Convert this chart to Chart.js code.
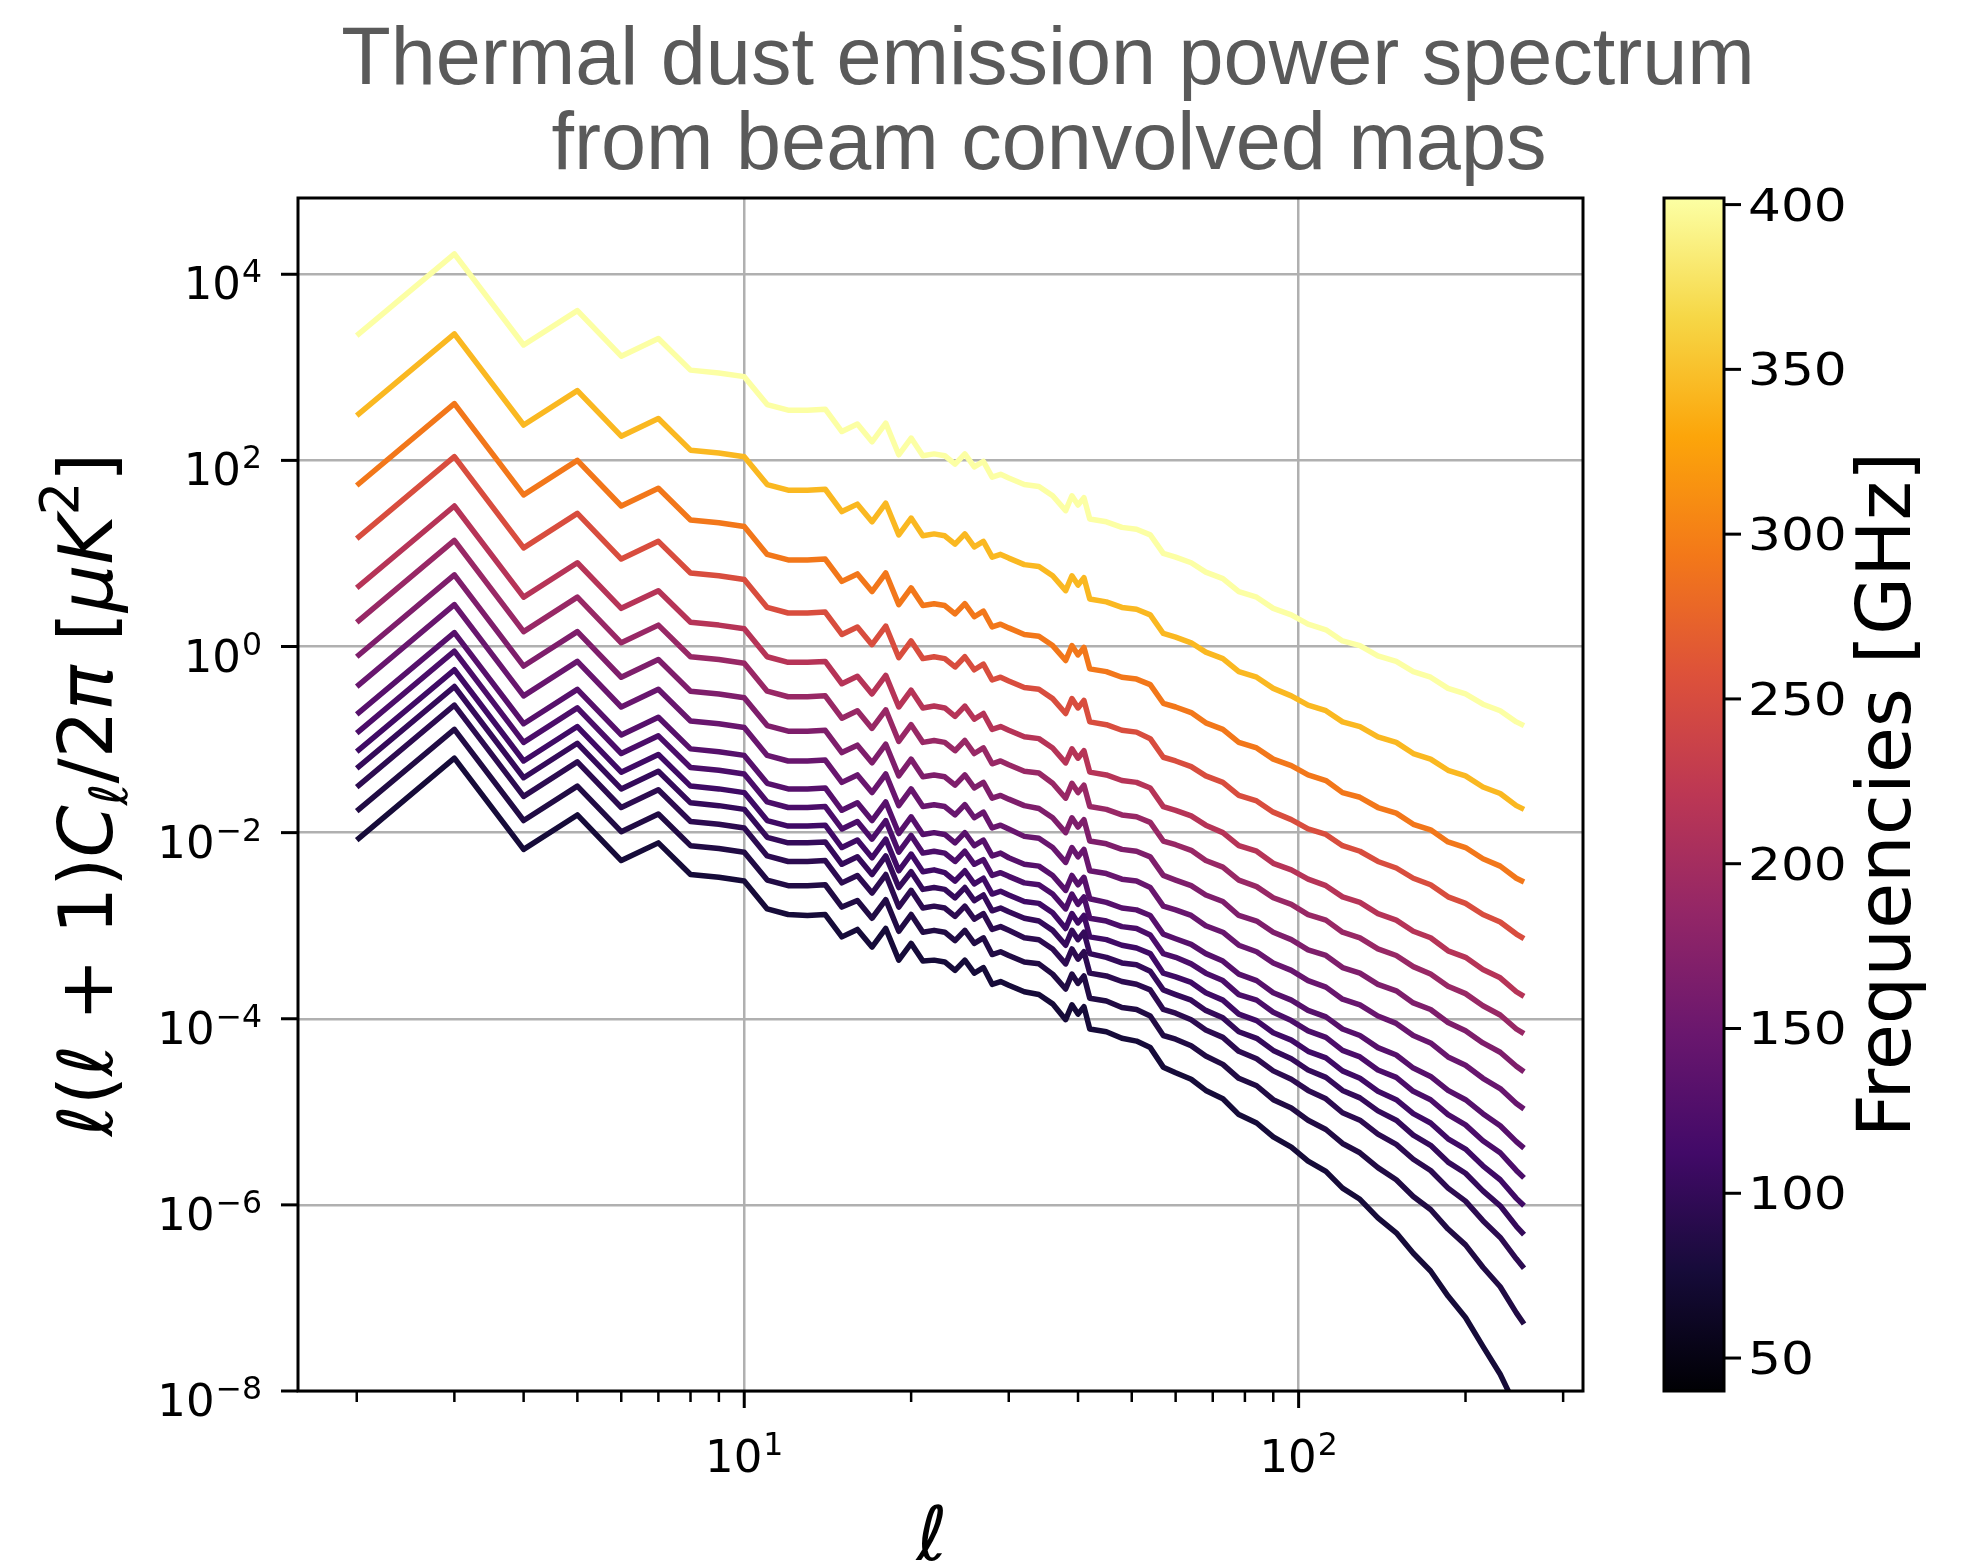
<!DOCTYPE html>
<html>
<head>
<meta charset="utf-8">
<title>Thermal dust emission power spectrum</title>
<script src="https://cdn.jsdelivr.net/npm/chart.js@4.4.1/dist/chart.umd.min.js"></script>
<style>
  html, body { margin: 0; padding: 0; background: #fff; }
  #wrap { width: 1962px; height: 1564px; }
</style>
</head>
<body>
<div id="wrap"><canvas id="spectrum" width="1962" height="1564"></canvas></div>
<script>
// multipoles at which the spectra are sampled
const ells = [2,3,4,5,6,7,8,9,10,11,12,13,14,15,16,17,18,19,20,21,22,23,24,25,26,27,28,29,30,
  32,34,36,38,39,40,41,42,45,48,51,54,57,60,64,68,73,78,84,90,97,104,112,120,129,139,150,161,173,186,200,215,231,247,255];

// band centres in GHz (lowest to highest)
const frequencies = [40, 50, 60, 68, 78, 89, 100, 119, 140, 166, 195, 235, 280, 337, 402];

// log10 of l(l+1)Cl/2pi [uK^2], one array per band
const logDl40 = [-2.08,-1.20,-2.18,-1.81,-2.30,-2.11,-2.45,-2.48,-2.52,-2.82,-2.88,-2.89,-2.88,-3.12,-3.04,-3.23,-3.03,-3.37,-3.19,
  -3.38,-3.37,-3.39,-3.48,-3.37,-3.51,-3.45,-3.63,-3.60,-3.64,
  -3.71,-3.74,-3.84,-4.01,-3.85,-3.95,-3.87,-4.11,-4.14,-4.21,-4.24,-4.31,-4.52,-4.58,-4.65,-4.77,-4.86,-5.03,-5.12,-5.27,-5.38,
  -5.53,-5.64,-5.82,-5.94,-6.14,-6.30,-6.52,-6.71,-6.98,-7.21,-7.52,-7.82,-8.18,-8.35];
const logDl50 = [-1.77,-0.89,-1.87,-1.50,-1.99,-1.80,-2.14,-2.17,-2.21,-2.51,-2.57,-2.57,-2.56,-2.80,-2.73,-2.92,-2.72,-3.06,-2.88,
  -3.07,-3.05,-3.07,-3.16,-3.05,-3.19,-3.13,-3.31,-3.28,-3.32,
  -3.39,-3.41,-3.52,-3.68,-3.52,-3.62,-3.54,-3.78,-3.81,-3.88,-3.90,-3.97,-4.18,-4.22,-4.29,-4.40,-4.49,-4.64,-4.72,-4.87,-4.96,
  -5.09,-5.19,-5.34,-5.44,-5.60,-5.73,-5.91,-6.05,-6.26,-6.43,-6.67,-6.88,-7.16,-7.28];
const logDl60 = [-1.51,-0.63,-1.61,-1.24,-1.73,-1.54,-1.88,-1.91,-1.95,-2.25,-2.31,-2.31,-2.30,-2.54,-2.46,-2.65,-2.45,-2.80,-2.62,
  -2.81,-2.79,-2.81,-2.90,-2.79,-2.93,-2.87,-3.04,-3.01,-3.05,
  -3.13,-3.15,-3.25,-3.41,-3.25,-3.36,-3.28,-3.51,-3.54,-3.60,-3.63,-3.69,-3.90,-3.94,-4.01,-4.12,-4.20,-4.35,-4.43,-4.56,-4.65,
  -4.77,-4.86,-5.01,-5.09,-5.24,-5.35,-5.51,-5.63,-5.82,-5.96,-6.17,-6.35,-6.58,-6.68];
const logDl68 = [-1.31,-0.43,-1.41,-1.04,-1.53,-1.34,-1.68,-1.71,-1.75,-2.05,-2.11,-2.11,-2.10,-2.34,-2.26,-2.45,-2.25,-2.59,-2.42,
  -2.61,-2.59,-2.61,-2.70,-2.59,-2.73,-2.67,-2.84,-2.81,-2.85,
  -2.92,-2.95,-3.05,-3.21,-3.05,-3.15,-3.07,-3.30,-3.34,-3.40,-3.42,-3.49,-3.69,-3.74,-3.80,-3.91,-3.99,-4.14,-4.21,-4.34,-4.43,
  -4.55,-4.63,-4.77,-4.85,-4.99,-5.09,-5.25,-5.36,-5.54,-5.66,-5.85,-6.01,-6.23,-6.32];
const logDl78 = [-1.13,-0.25,-1.23,-0.86,-1.35,-1.16,-1.50,-1.53,-1.57,-1.87,-1.93,-1.93,-1.92,-2.16,-2.08,-2.27,-2.07,-2.41,-2.23,
  -2.42,-2.40,-2.43,-2.52,-2.41,-2.55,-2.49,-2.66,-2.63,-2.67,
  -2.74,-2.76,-2.86,-3.03,-2.87,-2.97,-2.89,-3.12,-3.15,-3.21,-3.24,-3.30,-3.51,-3.55,-3.61,-3.72,-3.80,-3.95,-4.02,-4.15,-4.23,
  -4.35,-4.42,-4.56,-4.64,-4.78,-4.87,-5.02,-5.12,-5.29,-5.40,-5.58,-5.73,-5.93,-6.01];
const logDl89 = [-0.93,-0.05,-1.03,-0.66,-1.15,-0.96,-1.30,-1.33,-1.37,-1.67,-1.73,-1.73,-1.72,-1.96,-1.88,-2.07,-1.87,-2.21,-2.03,
  -2.22,-2.20,-2.22,-2.31,-2.20,-2.34,-2.29,-2.46,-2.43,-2.47,
  -2.54,-2.56,-2.66,-2.82,-2.66,-2.77,-2.69,-2.92,-2.95,-3.01,-3.03,-3.10,-3.30,-3.34,-3.41,-3.51,-3.59,-3.74,-3.80,-3.93,-4.02,
  -4.13,-4.20,-4.34,-4.41,-4.55,-4.63,-4.78,-4.87,-5.03,-5.14,-5.31,-5.44,-5.63,-5.71];
const logDl100 = [-0.73,0.15,-0.83,-0.46,-0.95,-0.76,-1.10,-1.13,-1.17,-1.47,-1.53,-1.53,-1.52,-1.76,-1.68,-1.87,-1.67,-2.01,-1.83,
  -2.02,-2.00,-2.02,-2.11,-2.00,-2.14,-2.08,-2.25,-2.22,-2.27,
  -2.34,-2.36,-2.46,-2.62,-2.46,-2.56,-2.48,-2.71,-2.75,-2.81,-2.83,-2.89,-3.09,-3.14,-3.20,-3.30,-3.38,-3.52,-3.59,-3.72,-3.80,
  -3.91,-3.98,-4.11,-4.18,-4.31,-4.39,-4.53,-4.62,-4.77,-4.87,-5.02,-5.15,-5.32,-5.39];
const logDl119 = [-0.43,0.45,-0.53,-0.16,-0.65,-0.46,-0.80,-0.83,-0.87,-1.17,-1.23,-1.23,-1.22,-1.46,-1.38,-1.57,-1.37,-1.71,-1.53,
  -1.72,-1.70,-1.72,-1.81,-1.70,-1.84,-1.78,-1.95,-1.92,-1.96,
  -2.04,-2.06,-2.16,-2.32,-2.16,-2.26,-2.18,-2.41,-2.44,-2.50,-2.52,-2.59,-2.79,-2.83,-2.89,-3.00,-3.07,-3.21,-3.28,-3.40,-3.48,
  -3.59,-3.66,-3.79,-3.85,-3.97,-4.05,-4.18,-4.26,-4.41,-4.50,-4.64,-4.75,-4.91,-4.97];
const logDl140 = [-0.11,0.77,-0.21,0.16,-0.33,-0.14,-0.48,-0.51,-0.55,-0.85,-0.91,-0.91,-0.90,-1.14,-1.06,-1.25,-1.05,-1.39,-1.21,
  -1.40,-1.38,-1.40,-1.49,-1.38,-1.52,-1.46,-1.63,-1.60,-1.64,
  -1.71,-1.74,-1.84,-2.00,-1.84,-1.94,-1.86,-2.09,-2.12,-2.18,-2.20,-2.26,-2.46,-2.51,-2.57,-2.67,-2.74,-2.89,-2.95,-3.07,-3.15,
  -3.26,-3.32,-3.45,-3.51,-3.63,-3.70,-3.83,-3.90,-4.04,-4.13,-4.26,-4.36,-4.51,-4.57];
const logDl166 = [0.26,1.14,0.16,0.53,0.04,0.23,-0.11,-0.14,-0.18,-0.48,-0.54,-0.54,-0.53,-0.77,-0.69,-0.88,-0.68,-1.02,-0.84,
  -1.03,-1.01,-1.03,-1.12,-1.01,-1.15,-1.09,-1.26,-1.23,-1.27,
  -1.34,-1.36,-1.47,-1.63,-1.47,-1.57,-1.49,-1.72,-1.75,-1.81,-1.83,-1.89,-2.09,-2.13,-2.19,-2.30,-2.37,-2.51,-2.58,-2.70,-2.77,
  -2.88,-2.94,-3.07,-3.13,-3.25,-3.32,-3.44,-3.52,-3.65,-3.73,-3.86,-3.96,-4.11,-4.16];
const logDl195 = [0.63,1.51,0.53,0.90,0.41,0.60,0.26,0.23,0.19,-0.11,-0.17,-0.17,-0.16,-0.40,-0.32,-0.51,-0.31,-0.65,-0.47,
  -0.66,-0.64,-0.66,-0.75,-0.64,-0.78,-0.72,-0.89,-0.86,-0.90,
  -0.97,-0.99,-1.09,-1.25,-1.10,-1.20,-1.12,-1.35,-1.38,-1.44,-1.46,-1.52,-1.72,-1.76,-1.82,-1.92,-2.00,-2.14,-2.20,-2.33,-2.40,
  -2.50,-2.57,-2.69,-2.75,-2.87,-2.94,-3.06,-3.13,-3.27,-3.34,-3.47,-3.56,-3.71,-3.76];
const logDl235 = [1.16,2.04,1.06,1.43,0.94,1.13,0.79,0.76,0.72,0.42,0.36,0.36,0.37,0.13,0.21,0.02,0.22,-0.12,0.06,
  -0.13,-0.11,-0.13,-0.22,-0.11,-0.25,-0.19,-0.36,-0.33,-0.37,
  -0.44,-0.46,-0.56,-0.72,-0.56,-0.66,-0.58,-0.81,-0.84,-0.90,-0.92,-0.99,-1.19,-1.23,-1.29,-1.39,-1.46,-1.60,-1.66,-1.78,-1.86,
  -1.96,-2.02,-2.14,-2.20,-2.31,-2.38,-2.49,-2.56,-2.69,-2.76,-2.88,-2.96,-3.09,-3.14];
const logDl280 = [1.73,2.61,1.63,2.00,1.51,1.70,1.36,1.33,1.29,0.99,0.93,0.93,0.94,0.70,0.78,0.59,0.79,0.45,0.63,
  0.44,0.46,0.44,0.35,0.46,0.32,0.38,0.21,0.24,0.20,
  0.13,0.11,0.01,-0.15,0.01,-0.09,-0.01,-0.24,-0.27,-0.33,-0.35,-0.41,-0.61,-0.65,-0.71,-0.82,-0.89,-1.03,-1.09,-1.21,-1.28,
  -1.38,-1.44,-1.57,-1.62,-1.73,-1.79,-1.91,-1.97,-2.10,-2.16,-2.28,-2.36,-2.49,-2.53];
const logDl337 = [2.48,3.36,2.38,2.75,2.26,2.45,2.11,2.08,2.04,1.74,1.68,1.68,1.69,1.45,1.53,1.34,1.54,1.20,1.38,
  1.19,1.21,1.19,1.10,1.21,1.07,1.13,0.96,0.99,0.95,
  0.88,0.86,0.76,0.60,0.76,0.66,0.74,0.51,0.48,0.42,0.40,0.34,0.14,0.10,0.04,-0.06,-0.13,-0.27,-0.33,-0.45,-0.53,
  -0.63,-0.69,-0.81,-0.86,-0.97,-1.03,-1.15,-1.21,-1.33,-1.39,-1.51,-1.58,-1.71,-1.75];
const logDl402 = [3.34,4.22,3.24,3.61,3.12,3.31,2.97,2.94,2.90,2.60,2.54,2.54,2.55,2.31,2.39,2.20,2.40,2.06,2.24,
  2.05,2.07,2.05,1.96,2.07,1.93,1.99,1.82,1.85,1.81,
  1.74,1.72,1.62,1.46,1.62,1.52,1.60,1.37,1.34,1.28,1.26,1.20,1.00,0.96,0.90,0.80,0.73,0.59,0.53,0.41,0.34,
  0.24,0.18,0.06,0.01,-0.10,-0.16,-0.27,-0.33,-0.45,-0.51,-0.62,-0.69,-0.81,-0.85];

const bandSpectra = [logDl40, logDl50, logDl60, logDl68, logDl78, logDl89, logDl100, logDl119,
  logDl140, logDl166, logDl195, logDl235, logDl280, logDl337, logDl402];

// axis ticks
const yTickExponents = [-8, -6, -4, -2, 0, 2, 4];
const xMajorTicks = [10, 100];
const xMinorTicks = [2, 3, 4, 5, 6, 7, 8, 9, 20, 30, 40, 50, 60, 70, 80, 90, 200, 300];
const colorbarTicks = [50, 100, 150, 200, 250, 300, 350, 400];

// inferno colour map, 11 stops
const infernoStops = ['#000004', '#160b39', '#420a68', '#6a176e', '#932667', '#bc3754',
  '#dd513a', '#f37819', '#fca50a', '#f6d746', '#fcffa4'];
const freqMin = 40, freqMax = 402;

function hexRgb(h) {
  return [parseInt(h.slice(1, 3), 16), parseInt(h.slice(3, 5), 16), parseInt(h.slice(5, 7), 16)];
}
function inferno(t) {
  t = Math.max(0, Math.min(1, t));
  const p = t * (infernoStops.length - 1);
  const i = Math.min(Math.floor(p), infernoStops.length - 2);
  const f = p - i;
  const a = hexRgb(infernoStops[i]), b = hexRgb(infernoStops[i + 1]);
  const c = a.map((v, k) => Math.round(v + (b[k] - v) * f));
  return `rgb(${c[0]},${c[1]},${c[2]})`;
}

const FONT = '"DejaVu Sans", sans-serif';

function supString(k) {
  return k < 0 ? '\u2212' + (-k) : String(k);
}

// draws 10^k as a mathtext-like label
function powerLabel(ctx, k, x, baseY, supY, align) {
  ctx.font = `45px ${FONT}`;
  const w1 = ctx.measureText('10').width;
  ctx.font = `31.5px ${FONT}`;
  const sup = supString(k);
  const w2 = ctx.measureText(sup).width;
  const total = w1 + 1 + w2;
  const x0 = align === 'right' ? x - total : x - total / 2;
  ctx.textAlign = 'left';
  ctx.textBaseline = 'alphabetic';
  ctx.font = `45px ${FONT}`;
  ctx.fillText('10', x0, baseY);
  ctx.font = `31.5px ${FONT}`;
  ctx.fillText(sup, x0 + w1 + 1, supY);
}

// rich text run: pieces with italic flag, size factor and vertical shift (em)
function drawRun(ctx, pieces, size, cx, cy) {
  const fontOf = p => `${p.it ? 'italic ' : ''}${size * (p.s || 1)}px ${FONT}`;
  let total = 0;
  pieces.forEach(p => { ctx.font = fontOf(p); p.w = ctx.measureText(p.t).width; total += p.w; });
  let xx = cx - total / 2;
  ctx.textAlign = 'left';
  ctx.textBaseline = 'alphabetic';
  pieces.forEach(p => {
    ctx.font = fontOf(p);
    ctx.fillText(p.t, xx, cy + (p.dy || 0) * size);
    xx += p.w;
  });
}

const yLabelPieces = [
  { t: '\u2113', it: 1 }, { t: '(' }, { t: '\u2113', it: 1 }, { t: ' + ' }, { t: '1' }, { t: ')' },
  { t: 'C', it: 1 }, { t: '\u2113', it: 1, s: 0.7, dy: 0.2 }, { t: '/2' }, { t: '\u03c0', it: 1 },
  { t: ' [' }, { t: '\u03bc', it: 1 }, { t: 'K', it: 1 }, { t: '2', s: 0.7, dy: -0.45 }, { t: ']' }
];

const decor = {
  id: 'decor',
  afterDraw(chart) {
    const { ctx, chartArea: a, scales: { x, y } } = chart;
    ctx.save();
    ctx.fillStyle = '#000';
    ctx.strokeStyle = '#000';

    // frame
    ctx.lineWidth = 3;
    ctx.strokeRect(a.left, a.top, a.right - a.left, a.bottom - a.top);

    // y ticks and labels
    yTickExponents.forEach(k => {
      const py = y.getPixelForValue(Math.pow(10, k));
      ctx.lineWidth = 3;
      ctx.beginPath(); ctx.moveTo(a.left - 17, py); ctx.lineTo(a.left, py); ctx.stroke();
      powerLabel(ctx, k, a.left - 36, py + 25, py + 8, 'right');
    });

    // x ticks and labels
    xMajorTicks.forEach(v => {
      const px = x.getPixelForValue(v);
      ctx.lineWidth = 3;
      ctx.beginPath(); ctx.moveTo(px, a.bottom); ctx.lineTo(px, a.bottom + 17); ctx.stroke();
      powerLabel(ctx, Math.round(Math.log10(v)), px, a.bottom + 81, a.bottom + 64, 'center');
    });
    xMinorTicks.forEach(v => {
      const px = x.getPixelForValue(v);
      ctx.lineWidth = 2.5;
      ctx.beginPath(); ctx.moveTo(px, a.bottom); ctx.lineTo(px, a.bottom + 11); ctx.stroke();
    });

    // axis titles
    ctx.save();
    ctx.translate(112, (a.top + a.bottom) / 2);
    ctx.rotate(-Math.PI / 2);
    drawRun(ctx, yLabelPieces, 75, 0, 0);
    ctx.restore();

    ctx.font = `italic 75px ${FONT}`;
    ctx.textAlign = 'center';
    ctx.textBaseline = 'alphabetic';
    ctx.fillText('\u2113', 932, 1560);

    // colour bar
    const cbL = 1664, cbR = 1724, cbT = a.top, cbB = a.bottom;
    const grad = ctx.createLinearGradient(0, cbB, 0, cbT);
    infernoStops.forEach((c, i) => grad.addColorStop(i / (infernoStops.length - 1), c));
    ctx.fillStyle = grad;
    ctx.fillRect(cbL, cbT, cbR - cbL, cbB - cbT);
    ctx.lineWidth = 3;
    ctx.strokeRect(cbL, cbT, cbR - cbL, cbB - cbT);
    ctx.fillStyle = '#000';
    colorbarTicks.forEach(v => {
      const py = cbB - (v - freqMin) / (freqMax - freqMin) * (cbB - cbT);
      ctx.beginPath(); ctx.moveTo(cbR, py); ctx.lineTo(cbR + 17, py); ctx.stroke();
      ctx.save();
      ctx.translate(cbR + 24, py + 16);
      ctx.scale(1.15, 1);
      ctx.font = `45px ${FONT}`;
      ctx.textAlign = 'left';
      ctx.textBaseline = 'alphabetic';
      ctx.fillText(String(v), 0, 0);
      ctx.restore();
    });
    ctx.save();
    ctx.translate(1910, (cbT + cbB) / 2);
    ctx.rotate(-Math.PI / 2);
    ctx.font = `75px ${FONT}`;
    ctx.textAlign = 'center';
    ctx.fillText('Frequencies [GHz]', 0, 0);
    ctx.restore();

    // title
    ctx.fillStyle = '#5a5a5a';
    ctx.font = '81px "Liberation Sans", Arial, sans-serif';
    ctx.textAlign = 'center';
    ctx.fillText('Thermal dust emission power spectrum', 1048, 84);
    ctx.fillText('from beam convolved maps', 1049, 169);
    ctx.restore();
  }
};

// line colours follow frequency / highest frequency
const datasets = bandSpectra.map((logs, b) => ({
  label: frequencies[b] + ' GHz',
  data: ells.map((l, i) => ({ x: l, y: Math.pow(10, logs[i]) })),
  borderColor: inferno(frequencies[b] / freqMax),
  borderWidth: 5.5,
  pointRadius: 0,
  fill: false,
  tension: 0,
  borderJoinStyle: 'round'
}));

function build() {
  new Chart(document.getElementById('spectrum'), {
    type: 'line',
    data: { datasets },
    options: {
      responsive: false,
      animation: false,
      devicePixelRatio: 1,
      layout: { padding: { left: 298, top: 198, right: 379, bottom: 173 } },
      plugins: { legend: { display: false }, tooltip: { enabled: false }, title: { display: false } },
      scales: {
        x: {
          type: 'logarithmic',
          min: 1.567,
          max: 325.8,
          border: { display: false },
          ticks: { display: false },
          grid: { color: '#b0b0b0', lineWidth: 2.5, drawTicks: false },
          afterBuildTicks: s => { s.ticks = xMajorTicks.map(v => ({ value: v })); },
          afterFit: s => { s.height = 0; }
        },
        y: {
          type: 'logarithmic',
          min: 1e-8,
          max: 6.6e4,
          border: { display: false },
          ticks: { display: false },
          grid: { color: '#b0b0b0', lineWidth: 2.5, drawTicks: false },
          afterBuildTicks: s => { s.ticks = yTickExponents.map(k => ({ value: Math.pow(10, k) })); },
          afterFit: s => { s.width = 0; }
        }
      }
    },
    plugins: [decor]
  });
}

Promise.all([
  document.fonts.load(`45px ${FONT}`),
  document.fonts.load(`italic 45px ${FONT}`),
  document.fonts.load('81px "Liberation Sans"')
]).then(build, build);
</script>
</body>
</html>
